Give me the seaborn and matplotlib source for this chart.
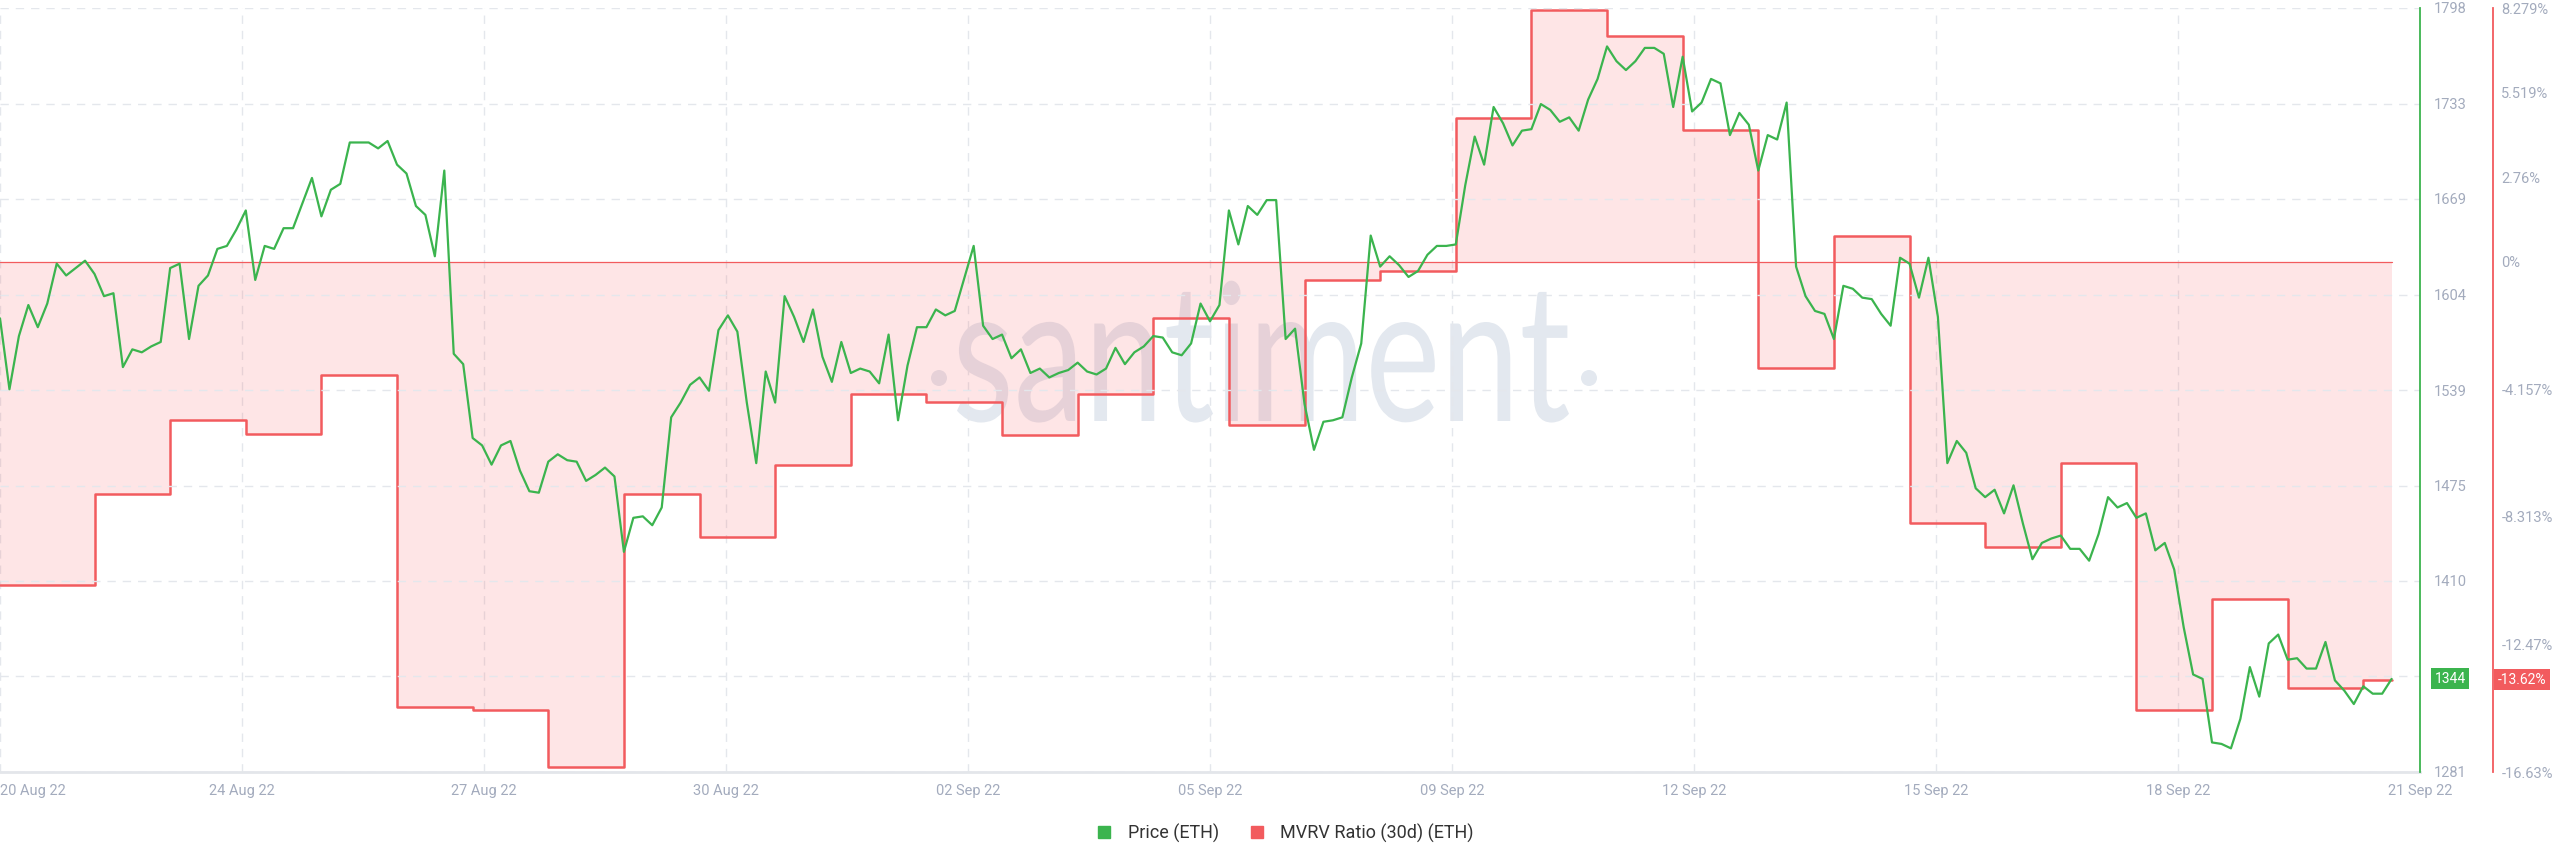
import pandas as pd
import matplotlib
matplotlib.use("Agg")
import matplotlib.pyplot as plt
import seaborn as sns
from matplotlib.lines import Line2D
from matplotlib.textpath import TextPath
from matplotlib.patches import PathPatch, Circle
from matplotlib.font_manager import FontProperties
from matplotlib.transforms import Affine2D, IdentityTransform, blended_transform_factory

# ETH price, one reading every 3 hours starting 20 Aug 22 18:00
price_start = "2022-08-20 18:00"
price_eth = [
    1588, 1540, 1576, 1597, 1582, 1598, 1625, 1617, 1622, 1627,
    1618, 1603, 1605, 1555, 1567, 1565, 1569, 1572, 1622, 1625,
    1574, 1610, 1617, 1635, 1637, 1648, 1661, 1614, 1637, 1635,
    1649, 1649, 1666, 1683, 1657, 1675, 1679, 1707, 1707, 1707,
    1703, 1708, 1692, 1686, 1664, 1658, 1630, 1688, 1564, 1557,
    1507, 1502,
    1489, 1502, 1505, 1485, 1471, 1470, 1491, 1496, 1492, 1491,
    1478, 1482, 1487, 1481, 1430, 1453, 1454, 1448, 1460, 1521,
    1531, 1543, 1548, 1539, 1580, 1590, 1579, 1531, 1490, 1552,
    1531, 1603, 1589, 1572, 1594, 1562, 1545, 1572, 1551, 1554,
    1552, 1544, 1577, 1519, 1556, 1582, 1582, 1594, 1590, 1593,
    1615,
    1637, 1583, 1574, 1577, 1561, 1567, 1551, 1554, 1548, 1551,
    1553, 1558, 1552, 1550, 1554, 1568, 1557, 1565, 1569, 1576,
    1575, 1565, 1563, 1571, 1598, 1586, 1597, 1661, 1638, 1664,
    1658, 1668, 1668, 1574, 1581, 1530, 1499, 1518, 1519, 1521,
    1548, 1571, 1644, 1623, 1630, 1624, 1616, 1620, 1631, 1637,
    1637,
    1638, 1678, 1711, 1692, 1731, 1720, 1705, 1715, 1716, 1733,
    1729, 1721, 1724, 1715, 1736, 1750, 1772, 1762, 1756, 1762,
    1771, 1771, 1767, 1731, 1765, 1728, 1734, 1750, 1747, 1712,
    1727, 1719, 1688, 1712, 1709, 1734, 1623, 1603, 1593, 1591,
    1574, 1610, 1608, 1602, 1601, 1591, 1583, 1629, 1625, 1602,
    1629,
    1589, 1490, 1505, 1497, 1473, 1467, 1472, 1456, 1475, 1449,
    1425, 1436, 1439, 1441, 1432, 1432, 1424, 1442, 1467, 1460,
    1463, 1453, 1456, 1431, 1436, 1418, 1379, 1347, 1344, 1301,
    1300, 1297, 1317, 1352, 1332, 1368, 1374, 1357, 1358, 1351,
    1351, 1369, 1343, 1336, 1327, 1339, 1334, 1334, 1344,
]

# MVRV ratio (30d) in %, one value per day
mvrv_days = pd.date_range("2022-08-21", "2022-09-21", freq="D")
mvrv_pct = [
    -10.53, -7.56, -5.14, -5.62, -3.70, -14.51, -14.62, -16.46,
    -7.56, -8.96, -6.62, -4.29, -4.57, -5.65, -4.32, -1.82,
    -5.32, -0.59, -0.30, 4.70, 8.22, 7.38, 4.29, -3.47,
    0.85, -8.51, -9.30, -6.54, -14.62, -10.98, -13.90, -13.62,
]

x_labels = ["20 Aug 22", "24 Aug 22", "27 Aug 22", "30 Aug 22", "02 Sep 22", "05 Sep 22",
            "09 Sep 22", "12 Sep 22", "15 Sep 22", "18 Sep 22", "21 Sep 22"]
price_tick_labels = ["1281", "", "1410", "1475", "1539", "1604", "1669", "1733", "1798"]
mvrv_ticks = [-16.63, -12.47, -8.313, -4.157, 0, 2.76, 5.519, 8.279]

GREEN = "#3bb44e"
RED = "#f25b5e"
GREY = "#a3abbd"
GRID = "#e4e7ec"

sns.set_style("white")
plt.rcParams["font.family"] = ["Roboto", "DejaVu Sans"]

W, H = 2560, 867
fig = plt.figure(figsize=(W / 100, H / 100), dpi=100)
fig.patch.set_facecolor("white")
ax = fig.add_axes([0.0, 95 / H, 2420 / W, 764 / H])
ax.set_facecolor("none")
ax2 = ax.twinx()

# data frames
price_time = pd.date_range(price_start, periods=len(price_eth), freq="3h")
df_price = pd.DataFrame({"time": price_time, "price": price_eth})

x_start = pd.Timestamp(price_start)
x_end = x_start + pd.Timedelta(days=32)
step_x = list(mvrv_days)
step_x[0] = x_start
step_x.append(price_time[-1])
df_mvrv = pd.DataFrame({"time": step_x, "mvrv": mvrv_pct + [mvrv_pct[-1]]})

# MVRV: filled steps around the 0% line
ax.fill_between(df_mvrv["time"], df_mvrv["mvrv"], 0, step="post", color="#fb5f64", alpha=0.16, lw=0, zorder=1)
ax.plot([x_start, price_time[-1]], [0, 0], color=RED, lw=0.9, zorder=2)
sns.lineplot(data=df_mvrv, x="time", y="mvrv", ax=ax, color=RED, lw=1.8,
             drawstyle="steps-post", zorder=3)

# price on top
sns.lineplot(data=df_price, x="time", y="price", ax=ax2, color=GREEN, lw=1.6, zorder=3)

# axes setup
ax.set_xlim(x_start, x_end)
ax.set_ylim(-16.63, 8.279)
ax2.set_ylim(1281, 1798)
for a in (ax, ax2):
    a.set_xlabel("")
    a.set_ylabel("")

xt = [x_start + pd.Timedelta(hours=76.8 * k) for k in range(11)]
ax.set_xticks(xt)
ax.set_xticklabels(x_labels)
ax.get_xticklabels()[0].set_horizontalalignment("left")

ax.yaxis.tick_right()
ax.set_yticks(mvrv_ticks)
ax.set_yticklabels([f"{v:g}%" for v in mvrv_ticks])
ax2.set_yticks([1281 + k * (1798 - 1281) / 8 for k in range(9)])
ax2.set_yticklabels(price_tick_labels)

ax.tick_params(axis="x", length=0, pad=9, labelsize=10.5, labelcolor=GREY)
ax.tick_params(axis="y", length=0, pad=6, labelsize=10.5, labelcolor=GREY)
ax2.tick_params(axis="y", length=0, pad=10, labelsize=10.5, labelcolor=GREY)

dash = (0, (6, 5))
ax.grid(axis="x", color=GRID, lw=1, linestyle=dash)
ax.grid(axis="y", visible=False)
ax2.grid(axis="y", color=GRID, lw=1, linestyle=dash)
ax2.set_axisbelow(True)

for s in ("left", "top"):
    ax.spines[s].set_visible(False)
    ax2.spines[s].set_visible(False)
ax2.spines["bottom"].set_visible(False)
ax.spines["bottom"].set_color("#e3e6ea")
ax.spines["bottom"].set_linewidth(2)
# outward offset is in points: 73 px at 100 dpi
ax.spines["right"].set_position(("outward", 52.5))
ax.spines["right"].set_color(RED)
ax.spines["right"].set_linewidth(1.3)
ax2.spines["right"].set_color(GREEN)
ax2.spines["right"].set_linewidth(1.3)

# last value badges
ax2.annotate("1344", xy=(1, 1344), xycoords=blended_transform_factory(ax2.transAxes, ax2.transData),
             xytext=(10.5, 0), textcoords="offset points", ha="left", va="center",
             color="white", fontsize=10, annotation_clip=False,
             bbox=dict(boxstyle="square,pad=0.25", fc=GREEN, ec="none"))
ax.annotate("-13.62%", xy=(1, -13.62), xycoords=blended_transform_factory(ax.transAxes, ax.transData),
            xytext=(56, 0), textcoords="offset points", ha="left", va="center",
            color="white", fontsize=10, annotation_clip=False,
            bbox=dict(boxstyle="square,pad=0.25", fc=RED, ec="none"))

# legend
handles = [Line2D([], [], marker="s", ls="none", color=GREEN, markersize=8),
           Line2D([], [], marker="s", ls="none", color=RED, markersize=8)]
fig.legend(handles, ["Price (ETH)", "MVRV Ratio (30d) (ETH)"], loc="center",
           bbox_to_anchor=(0.5, 34 / H), ncol=2, frameon=False, fontsize=13,
           handletextpad=0.3, columnspacing=1.1, labelcolor="#333333")

# santiment watermark, drawn in pixels behind the plot
fp = FontProperties(family="Lato", weight="normal")
word = TextPath((0, 0), "santiment", size=100, prop=fp)
bb = word.get_extents()
xh = TextPath((0, 0), "n", size=100, prop=fp).get_extents().height
tr = Affine2D().translate(-bb.x0, 0).scale(612 / bb.width, 99 / xh).translate(957, H - 421)
fig.add_artist(PathPatch(tr.transform_path(word), transform=IdentityTransform(),
                         fc="#e3e8ef", ec="none", zorder=-1))
for cx in (939, 1589):
    fig.add_artist(Circle((cx, H - 378), 8, transform=IdentityTransform(),
                          fc="#e3e8ef", ec="none", zorder=-1))

fig.savefig("out.png", dpi=100)
